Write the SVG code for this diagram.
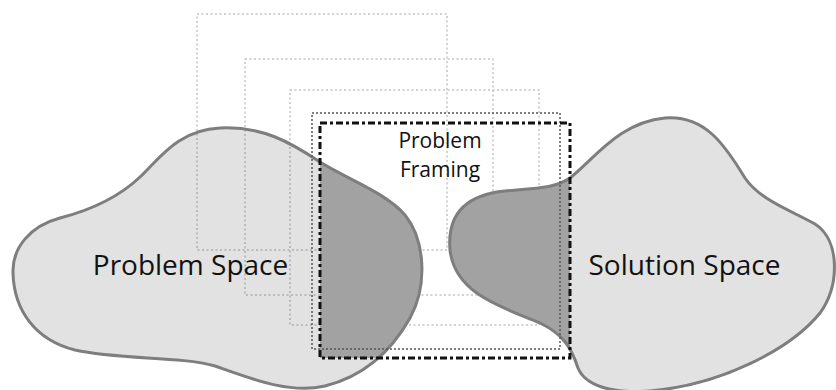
<svg xmlns="http://www.w3.org/2000/svg" width="836" height="390" viewBox="0 0 836 390">
<style>
.faint{fill:none;stroke:#c4c4c4;stroke-width:1.5;stroke-dasharray:2 2.5}
.dot{fill:none;stroke:#555;stroke-width:1.5;stroke-dasharray:2 2}
.frame{fill:none;stroke:#111;stroke-width:3;stroke-dasharray:7 3 3 3}
.light{fill:#000;fill-opacity:0.115}
.dark{fill:#a2a2a2}
.edge{fill:none;stroke:#7e7e7e;stroke-width:3}
.lbl{font-family:"Open Sans","Liberation Sans",sans-serif;fill:#111;text-anchor:middle}
</style>
<defs>
<path id="pshape" d="M13,273 C12,248 30,226 60,218 C95,209 120,196 140,177 C160,158 178,130 220,128 C262,126 290,142 320,162 C345,178 385,192 405,215 C425,240 428,285 410,318 C392,350 365,376 325,386 C290,394 255,380 215,366 C180,356 120,360 75,350 C35,340 14,310 13,273 Z"/>
<path id="sshape" d="M570,178 C595,158 620,122 665,118 C705,115 725,145 745,178 C760,200 790,210 815,224 C840,240 840,285 820,313 C790,350 720,385 650,391 C610,394 585,385 578,368 C572,350 565,335 540,323 C505,308 455,295 450,250 C447,215 465,195 505,191 C540,188 555,188 570,178 Z"/>
<clipPath id="frameclip"><rect x="320" y="123" width="250" height="235"/></clipPath>
</defs>
<g id="past-frames">
<rect class="faint" x="197" y="14" width="250" height="236"/>
<rect class="faint" x="245" y="59" width="248" height="236"/>
<rect class="faint" x="290" y="90" width="249" height="235"/>
</g>
<g id="problem-space">
<use href="#pshape" class="light"/>
<use href="#pshape" class="dark" clip-path="url(#frameclip)"/>
<use href="#pshape" class="edge"/>
<text class="lbl" x="190.5" y="275" font-size="28">Problem Space</text>
</g>
<g id="solution-space">
<use href="#sshape" class="light"/>
<use href="#sshape" class="dark" clip-path="url(#frameclip)"/>
<use href="#sshape" class="edge"/>
<text class="lbl" x="684.5" y="275" font-size="28">Solution Space</text>
</g>
<g id="problem-framing">
<rect class="dot" x="312" y="113" width="248" height="236"/>
<rect class="frame" x="320" y="123" width="250" height="235"/>
<text class="lbl" x="440" y="148" font-size="21">Problem</text>
<text class="lbl" x="440" y="177" font-size="21">Framing</text>
</g>
<g id="connectors"/>
</svg>
